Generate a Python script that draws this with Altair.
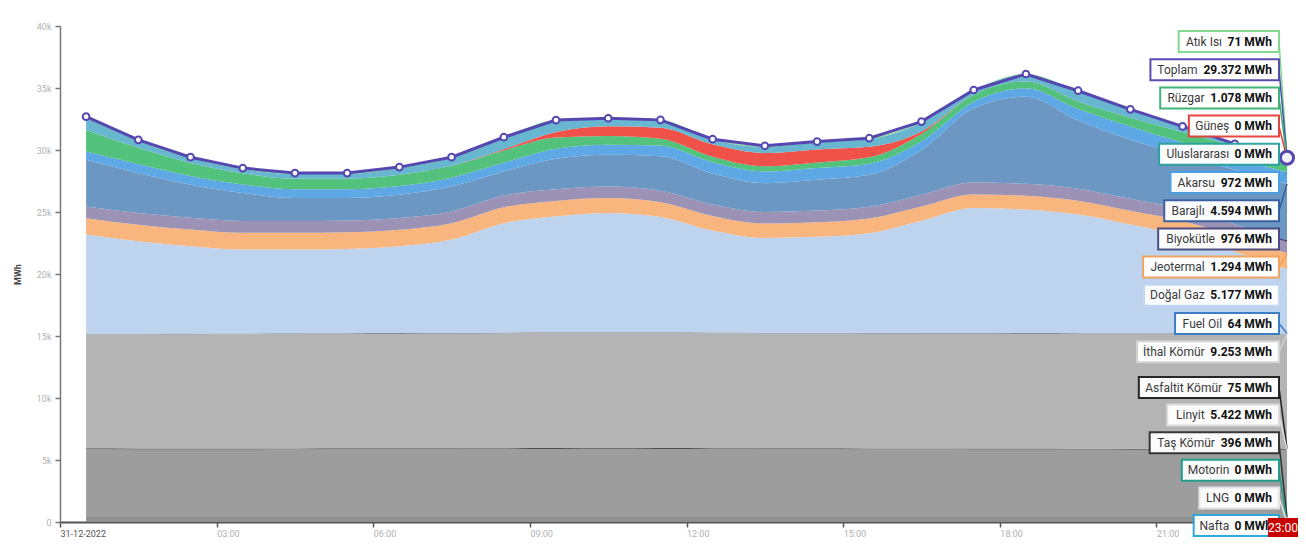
import altair as alt
import pandas as pd

# ---------------- data (MWh, hourly, 31-12-2022) ----------------
saat_etiketleri = ["00:00", "01:00", "02:00", "03:00", "04:00", "05:00", "06:00", "07:00",
                   "08:00", "09:00", "10:00", "11:00", "12:00", "13:00", "14:00", "15:00",
                   "16:00", "17:00", "18:00", "19:00", "20:00", "21:00", "22:00", "23:00"]
eksen_etiketleri = ["31-12-2022", "03:00", "06:00", "09:00", "12:00", "15:00", "18:00", "21:00"]

nafta = [0, 0, 0, 0, 0, 0, 0, 0, 0, 0, 0, 0, 0, 0, 0, 0, 0, 0, 0, 0, 0, 0, 0, 0]
lng = [0, 0, 0, 0, 0, 0, 0, 0, 0, 0, 0, 0, 0, 0, 0, 0, 0, 0, 0, 0, 0, 0, 0, 0]
motorin = [0, 0, 0, 0, 0, 0, 0, 0, 0, 0, 0, 0, 0, 0, 0, 0, 0, 0, 0, 0, 0, 0, 0, 0]
tas_komur = [402, 400, 401, 403, 404, 402, 400, 398, 399, 401, 403, 402,
             400, 398, 399, 401, 402, 400, 399, 398, 397, 396, 396, 396]
linyit = [5460, 5455, 5450, 5452, 5455, 5460, 5465, 5470, 5480, 5490, 5495, 5490,
          5480, 5470, 5465, 5460, 5455, 5450, 5445, 5440, 5435, 5430, 5426, 5422]
asfaltit = [78, 78, 77, 77, 77, 76, 76, 77, 77, 78, 78, 77,
            77, 76, 76, 76, 76, 75, 75, 75, 75, 75, 75, 75]
ithal_komur = [9180, 9190, 9200, 9210, 9215, 9220, 9230, 9240, 9255, 9265, 9270, 9268,
               9262, 9258, 9255, 9254, 9252, 9250, 9250, 9251, 9252, 9252, 9253, 9253]
fuel_oil = [66, 66, 66, 65, 65, 65, 65, 65, 66, 66, 66, 66,
            65, 65, 65, 65, 65, 65, 64, 64, 64, 64, 64, 64]
dogal_gaz = [7990, 7450, 7050, 6770, 6760, 6800, 7000, 7530, 8820, 9350, 9610, 9300,
             8220, 7640, 7740, 8040, 9050, 10080, 9960, 9570, 8770, 7880, 6590, 5177]
jeotermal = [1330, 1335, 1340, 1345, 1345, 1340, 1335, 1320, 1280, 1240, 1200, 1180,
             1170, 1160, 1170, 1180, 1150, 1100, 1120, 1110, 1100, 1180, 1240, 1294]
biyokutle = [940, 945, 950, 955, 955, 955, 950, 950, 945, 940, 935, 935,
             940, 940, 945, 945, 950, 955, 960, 965, 970, 972, 974, 976]
barajli = [3760, 3210, 2670, 2250, 1850, 1815, 1875, 2020, 1945, 2470, 2555, 2785,
           2490, 2320, 2485, 2575, 3600, 5985, 7030, 5525, 4760, 4348, 4386, 4594]
akarsu = [670, 750, 700, 700, 700, 700, 700, 700, 700, 800, 810, 850,
          900, 940, 950, 900, 700, 540, 670, 900, 1070, 1000, 980, 972]
ruzgar = [1740, 1300, 1050, 900, 850, 850, 900, 950, 1000, 900, 700, 550,
          450, 420, 450, 520, 600, 550, 560, 620, 700, 850, 950, 1078]
gunes = [0, 0, 0, 0, 0, 0, 0, 0, 100, 450, 800, 900,
         1000, 1070, 1050, 850, 200, 0, 0, 0, 0, 0, 0, 0]
uluslararasi = [1000, 570, 400, 340, 390, 390, 550, 630, 890, 890, 570, 560,
                350, 510, 560, 610, 720, 320, 530, 790, 620, 380, 100, 0]
atik_isi = [72, 72, 71, 71, 71, 71, 72, 72, 70, 70, 70, 70,
            70, 70, 70, 70, 70, 70, 71, 71, 71, 71, 71, 71]
toplam = [32690, 30820, 29420, 28540, 28140, 28140, 28620, 29420, 31030, 32410, 32560, 32430,
          30870, 30340, 30680, 30950, 32290, 34840, 36130, 34780, 33280, 31900, 30500, 29372]

# stacking order: bottom -> top  (name, values, area colour, label border colour)
seriler = [
    ("Nafta", nafta, "#2aa8dc", "#2aa8dc"),
    ("LNG", lng, "#e0e0e0", "#e6e6e6"),
    ("Motorin", motorin, "#1f9e8a", "#1f9e8a"),
    ("Taş Kömür", tas_komur, "#8f8f8f", "#333333"),
    ("Linyit", linyit, "#9d9d9d", "#dddddd"),
    ("Asfaltit Kömür", asfaltit, "#4a4a4a", "#222222"),
    ("İthal Kömür", ithal_komur, "#b4b4b4", "#d4d4d4"),
    ("Fuel Oil", fuel_oil, "#7d8a9a", "#3b7cc4"),
    ("Doğal Gaz", dogal_gaz, "#bed3ed", "#c4d8f0"),
    ("Jeotermal", jeotermal, "#f8b57e", "#f3a35a"),
    ("Biyokütle", biyokutle, "#9b92b5", "#4a4a80"),
    ("Barajlı", barajli, "#6c97c2", "#3a5fa0"),
    ("Akarsu", akarsu, "#5fa8e6", "#4aa0e2"),
    ("Rüzgar", ruzgar, "#52c27c", "#3bb273"),
    ("Güneş", gunes, "#f0524a", "#e5413b"),
    ("Uluslararası", uluslararasi, "#68b6cf", "#2aa39f"),
    ("Atık Isı", atik_isi, "#7ad48c", "#7fd88f"),
]
TOPLAM_RENK = "#5448b0"

rows = []
for sira, (ad, vals, _, _) in enumerate(seriler):
    for i, v in enumerate(vals):
        rows.append({"saat": i + 0.5, "etiket": saat_etiketleri[i], "kaynak": ad,
                     "mwh": v, "sira": sira})
df = pd.DataFrame(rows)
tdf = pd.DataFrame({"saat": [i + 0.5 for i in range(24)], "etiket": saat_etiketleri,
                    "toplam": toplam})
son_df = tdf.tail(1)

# ---------------- layout (SVG kept within the 1290px body width / page height) ----------------
PLOT_W, PLOT_H = 1227, 496
Y_MAX = 40000
PAD = {"left": 52, "top": 18, "right": 11, "bottom": 18}
PAGE_TOP = 8 + PAD["top"]
PAGE_LEFT = 8 + PAD["left"]
FS = 12

label_expr = "[" + ",".join("'" + s + "'" for s in eksen_etiketleri) + "][datum.value / 3]"

x_enc = alt.X("saat:Q",
              scale=alt.Scale(domain=[0, 23.5], nice=False, zero=False),
              axis=alt.Axis(values=[0, 3, 6, 9, 12, 15, 18, 21], labelExpr=label_expr,
                            title=None, labelAlign="left", labelPadding=2,
                            labelBaseline="top",
                            labelColor={"expr": "datum.value == 0 ? '#555555' : '#b0b0b0'"},
                            labelFontSize=9, labelFont="Roboto",
                            domainColor="#555555", domainWidth=2,
                            tickColor="#555555", tickSize=5, tickWidth=1.5, grid=False))
y_axis = alt.Axis(values=[0, 5000, 10000, 15000, 20000, 25000, 30000, 35000, 40000],
                  labelExpr="datum.value == 0 ? '0' : (datum.value / 1000) + 'k'",
                  title="MWh", titleFontSize=9, titleFont="Roboto", titleColor="#444444",
                  titleFontWeight="bold", titlePadding=14,
                  labelColor="#b0b0b0", labelFontSize=9, labelFont="Roboto", labelPadding=4,
                  domainColor="#777777", domainWidth=1.5, tickColor="#777777",
                  tickSize=5, tickWidth=1.5, grid=False)

alanlar = alt.Chart(df).mark_area(interpolate="monotone", opacity=1).encode(
    x=x_enc,
    y=alt.Y("mwh:Q", stack="zero", scale=alt.Scale(domain=[0, Y_MAX], nice=False), axis=y_axis),
    color=alt.Color("kaynak:N", legend=None,
                    scale=alt.Scale(domain=[s[0] for s in seriler], range=[s[2] for s in seriler])),
    order=alt.Order("sira:Q", sort="ascending"),
)
cizgi = alt.Chart(tdf).mark_line(interpolate="linear", color=TOPLAM_RENK, strokeWidth=3).encode(
    x="saat:Q", y="toplam:Q")
noktalar = alt.Chart(tdf).mark_point(filled=True, fill="white", stroke=TOPLAM_RENK,
                                     strokeWidth=2, size=45, opacity=1).encode(
    x="saat:Q", y="toplam:Q")
son_nokta = alt.Chart(son_df).mark_point(filled=True, fill="#f2f0fb", stroke=TOPLAM_RENK,
                                         strokeWidth=3, size=170, opacity=1).encode(
    x="saat:Q", y="toplam:Q")

# ---------------- right-hand value labels (at 23:00) ----------------
def yazi_genisligi(s, kalin=False, fs=FS):
    w = 0.0
    for ch in s:
        if ch in "iıIlİj.,:'|":
            w += 2.7
        elif ch in "frt":
            w += 3.7
        elif ch == " ":
            w += 2.8
        elif ch in "mMW":
            w += 9.3
        elif ch == "w":
            w += 8.0
        elif ch.isdigit():
            w += 6.2
        elif ch.isupper():
            w += 7.0
        else:
            w += 5.9
    return w * (1.06 if kalin else 1.0) * fs / 11.0

renk_map = {s[0]: s[3] for s in seriler}
renk_map["Toplam"] = TOPLAM_RENK
son_deger = {s[0]: s[1][-1] for s in seriler}
son_deger["Toplam"] = toplam[-1]
# top of each series' stack at the last hour (where its callout points)
son_ust = {}
kum = 0
for ad, vals, _, _ in seriler:
    kum += vals[-1]
    son_ust[ad] = kum
son_ust["Toplam"] = toplam[-1]

etiket_sirasi = ["Atık Isı", "Toplam", "Rüzgar", "Güneş", "Uluslararası", "Akarsu", "Barajlı",
                 "Biyokütle", "Jeotermal", "Doğal Gaz", "Fuel Oil", "İthal Kömür",
                 "Asfaltit Kömür", "Linyit", "Taş Kömür", "Motorin", "LNG", "Nafta"]

SAG = 1279 - PAGE_LEFT
lrows = []
for i, ad in enumerate(etiket_sirasi):
    top_page = 31 + 28.2 * i if i < 12 else 377 + 27.6 * (i - 12)
    y1 = top_page - PAGE_TOP
    deger = f"{son_deger[ad]:,} MWh".replace(",", ".")
    vw = yazi_genisligi(deger, True)
    nw = yazi_genisligi(ad)
    vx = SAG - 7
    nx = vx - vw - 4
    bx1 = nx - nw - 7
    cy = y1 + 10.5
    lrows.append({"ad": ad, "deger": deger, "renk": renk_map[ad], "bx1": bx1, "bx2": SAG,
                  "by1": y1, "by2": y1 + 21, "cy": cy, "nx": nx, "vx": vx,
                  "saat": 23.5, "ust": son_ust[ad],
                  "kutu_y": Y_MAX * (1 - cy / PLOT_H)})
ldf = pd.DataFrame(lrows)

# callout pointers from each box to its series at 23:00 (data end through the scales)
baglar = alt.Chart(ldf).mark_rule(strokeWidth=1.5).encode(
    x="saat:Q", y="ust:Q", x2=alt.value(SAG), y2="kutu_y:Q",
    stroke=alt.Stroke("renk:N", scale=None, legend=None))

veri_katmani = alt.layer(alanlar, cizgi, noktalar, baglar, son_nokta)

kutular = alt.Chart(ldf).mark_rect(fill="white", strokeWidth=2, opacity=0.97).encode(
    x=alt.X("bx1:Q", scale=None, axis=None), x2="bx2:Q",
    y=alt.Y("by1:Q", scale=None, axis=None), y2="by2:Q",
    stroke=alt.Stroke("renk:N", scale=None, legend=None))
adlar = alt.Chart(ldf).mark_text(align="right", baseline="middle", font="Roboto",
                                 fontSize=FS, color="#3a3a3a").encode(
    x=alt.X("nx:Q", scale=None, axis=None), y=alt.Y("cy:Q", scale=None, axis=None), text="ad:N")
degerler = alt.Chart(ldf).mark_text(align="right", baseline="middle", font="Roboto",
                                    fontSize=FS, fontWeight="bold", color="#111111").encode(
    x=alt.X("vx:Q", scale=None, axis=None), y=alt.Y("cy:Q", scale=None, axis=None), text="deger:N")

# crosshair time badge (clipped at the right edge like the reference)
rozet_df = pd.DataFrame({"t": [saat_etiketleri[-1]],
                         "x1": [1268 - PAGE_LEFT], "x2": [1300 - PAGE_LEFT],
                         "y1": [518 - PAGE_TOP], "y2": [537 - PAGE_TOP]})
rozet = alt.Chart(rozet_df).mark_rect(fill="#c80000").encode(
    x=alt.X("x1:Q", scale=None, axis=None), x2="x2:Q",
    y=alt.Y("y1:Q", scale=None, axis=None), y2="y2:Q")
rozet_yazi = alt.Chart(rozet_df).mark_text(color="white", font="Roboto", fontSize=12,
                                           align="center", baseline="middle").encode(
    x=alt.X("x1:Q", scale=None, axis=None), y=alt.Y("y1:Q", scale=None, axis=None), text="t:N",
    xOffset=alt.value(15), yOffset=alt.value(10))

etiket_katmani = alt.layer(kutular, adlar, degerler, rozet, rozet_yazi)

chart = alt.layer(veri_katmani, etiket_katmani).resolve_scale(
    x="independent", y="independent", color="independent", stroke="independent"
).properties(
    width=PLOT_W, height=PLOT_H,
    autosize=alt.AutoSizeParams(type="none"),
    padding=PAD, background="white",
).configure_view(stroke=None)

chart.save("out.html", embed_options={"renderer": "svg", "actions": False})
